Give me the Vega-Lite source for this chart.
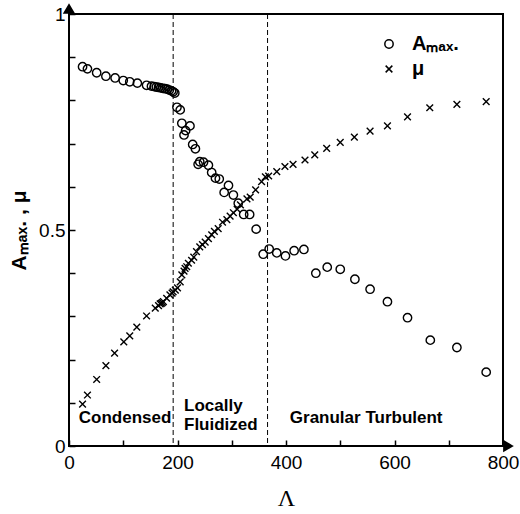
{
  "$schema": "https://vega.github.io/schema/vega-lite/v6.json",
  "autosize": {"type": "none"},
  "padding": {"left": 69, "top": 14, "right": 17, "bottom": 68},
  "width": 434,
  "height": 432,
  "background": "white",
  "config": {
    "font": "Liberation Sans",
    "view": {"stroke": "black", "strokeWidth": 2},
    "axis": {
      "domain": false,
      "tickColor": "black", "tickWidth": 1.5,
      "labelColor": "black", "labelFontSize": 19, "labelFont": "Liberation Sans",
      "grid": false, "titleColor": "black"
    }
  },
  "datasets": {
    "pts": [
      {"L": 25, "v": 0.878, "series": "A"}, {"L": 34, "v": 0.873, "series": "A"}, {"L": 51, "v": 0.864, "series": "A"},
      {"L": 68, "v": 0.856, "series": "A"}, {"L": 85, "v": 0.852, "series": "A"}, {"L": 100, "v": 0.846, "series": "A"},
      {"L": 112, "v": 0.843, "series": "A"}, {"L": 126, "v": 0.840, "series": "A"}, {"L": 143, "v": 0.835, "series": "A"},
      {"L": 152, "v": 0.833, "series": "A"}, {"L": 157, "v": 0.832, "series": "A"}, {"L": 161, "v": 0.831, "series": "A"},
      {"L": 165, "v": 0.830, "series": "A"}, {"L": 169, "v": 0.829, "series": "A"}, {"L": 173, "v": 0.828, "series": "A"},
      {"L": 177, "v": 0.827, "series": "A"}, {"L": 181, "v": 0.826, "series": "A"}, {"L": 185, "v": 0.824, "series": "A"},
      {"L": 189, "v": 0.822, "series": "A"}, {"L": 192, "v": 0.820, "series": "A"}, {"L": 195, "v": 0.817, "series": "A"},
      {"L": 199, "v": 0.784, "series": "A"}, {"L": 205, "v": 0.778, "series": "A"}, {"L": 208, "v": 0.747, "series": "A"},
      {"L": 223, "v": 0.741, "series": "A"}, {"L": 212, "v": 0.720, "series": "A"}, {"L": 215, "v": 0.730, "series": "A"},
      {"L": 228, "v": 0.698, "series": "A"}, {"L": 233, "v": 0.688, "series": "A"}, {"L": 238, "v": 0.652, "series": "A"},
      {"L": 241, "v": 0.658, "series": "A"}, {"L": 248, "v": 0.657, "series": "A"}, {"L": 257, "v": 0.650, "series": "A"},
      {"L": 263, "v": 0.633, "series": "A"}, {"L": 270, "v": 0.620, "series": "A"}, {"L": 277, "v": 0.618, "series": "A"},
      {"L": 286, "v": 0.587, "series": "A"}, {"L": 294, "v": 0.603, "series": "A"}, {"L": 303, "v": 0.581, "series": "A"},
      {"L": 312, "v": 0.562, "series": "A"}, {"L": 322, "v": 0.536, "series": "A"}, {"L": 333, "v": 0.536, "series": "A"},
      {"L": 345, "v": 0.502, "series": "A"}, {"L": 358, "v": 0.444, "series": "A"}, {"L": 369, "v": 0.456, "series": "A"},
      {"L": 383, "v": 0.447, "series": "A"}, {"L": 399, "v": 0.440, "series": "A"}, {"L": 415, "v": 0.452, "series": "A"},
      {"L": 433, "v": 0.455, "series": "A"}, {"L": 455, "v": 0.400, "series": "A"}, {"L": 476, "v": 0.414, "series": "A"},
      {"L": 500, "v": 0.409, "series": "A"}, {"L": 527, "v": 0.386, "series": "A"}, {"L": 555, "v": 0.363, "series": "A"},
      {"L": 587, "v": 0.334, "series": "A"}, {"L": 624, "v": 0.297, "series": "A"}, {"L": 666, "v": 0.245, "series": "A"},
      {"L": 715, "v": 0.228, "series": "A"}, {"L": 769, "v": 0.171, "series": "A"},
      {"L": 25, "v": 0.097, "series": "mu"}, {"L": 34, "v": 0.118, "series": "mu"}, {"L": 51, "v": 0.154, "series": "mu"},
      {"L": 68, "v": 0.186, "series": "mu"}, {"L": 84, "v": 0.215, "series": "mu"}, {"L": 101, "v": 0.241, "series": "mu"},
      {"L": 112, "v": 0.255, "series": "mu"}, {"L": 125, "v": 0.275, "series": "mu"}, {"L": 143, "v": 0.301, "series": "mu"},
      {"L": 159, "v": 0.319, "series": "mu"}, {"L": 165, "v": 0.325, "series": "mu"}, {"L": 168, "v": 0.329, "series": "mu"},
      {"L": 170, "v": 0.330, "series": "mu"}, {"L": 172, "v": 0.332, "series": "mu"}, {"L": 174, "v": 0.334, "series": "mu"},
      {"L": 180, "v": 0.342, "series": "mu"}, {"L": 186, "v": 0.350, "series": "mu"}, {"L": 190, "v": 0.354, "series": "mu"},
      {"L": 192, "v": 0.357, "series": "mu"}, {"L": 196, "v": 0.361, "series": "mu"}, {"L": 200, "v": 0.366, "series": "mu"},
      {"L": 205, "v": 0.380, "series": "mu"}, {"L": 208, "v": 0.396, "series": "mu"}, {"L": 212, "v": 0.405, "series": "mu"},
      {"L": 214, "v": 0.411, "series": "mu"}, {"L": 217, "v": 0.415, "series": "mu"}, {"L": 220, "v": 0.423, "series": "mu"},
      {"L": 226, "v": 0.430, "series": "mu"}, {"L": 230, "v": 0.437, "series": "mu"}, {"L": 235, "v": 0.450, "series": "mu"},
      {"L": 241, "v": 0.461, "series": "mu"}, {"L": 246, "v": 0.466, "series": "mu"}, {"L": 251, "v": 0.472, "series": "mu"},
      {"L": 257, "v": 0.480, "series": "mu"}, {"L": 263, "v": 0.489, "series": "mu"}, {"L": 268, "v": 0.497, "series": "mu"},
      {"L": 275, "v": 0.503, "series": "mu"}, {"L": 283, "v": 0.518, "series": "mu"}, {"L": 291, "v": 0.524, "series": "mu"},
      {"L": 297, "v": 0.532, "series": "mu"}, {"L": 303, "v": 0.540, "series": "mu"}, {"L": 310, "v": 0.548, "series": "mu"},
      {"L": 316, "v": 0.558, "series": "mu"}, {"L": 328, "v": 0.572, "series": "mu"}, {"L": 334, "v": 0.576, "series": "mu"},
      {"L": 344, "v": 0.593, "series": "mu"}, {"L": 355, "v": 0.612, "series": "mu"}, {"L": 362, "v": 0.623, "series": "mu"},
      {"L": 368, "v": 0.625, "series": "mu"}, {"L": 383, "v": 0.635, "series": "mu"}, {"L": 398, "v": 0.647, "series": "mu"},
      {"L": 413, "v": 0.652, "series": "mu"}, {"L": 435, "v": 0.662, "series": "mu"}, {"L": 453, "v": 0.674, "series": "mu"},
      {"L": 475, "v": 0.689, "series": "mu"}, {"L": 500, "v": 0.703, "series": "mu"}, {"L": 526, "v": 0.715, "series": "mu"},
      {"L": 555, "v": 0.729, "series": "mu"}, {"L": 587, "v": 0.741, "series": "mu"}, {"L": 624, "v": 0.762, "series": "mu"},
      {"L": 665, "v": 0.783, "series": "mu"}, {"L": 715, "v": 0.791, "series": "mu"}, {"L": 769, "v": 0.797, "series": "mu"}
    ],
    "regimes": [{"L": 192}, {"L": 366}],
    "labels": [
      {"L": 18, "v": 0.053, "t": "Condensed"},
      {"L": 212, "v": 0.081, "t": "Locally"},
      {"L": 212, "v": 0.037, "t": "Fluidized"},
      {"L": 407, "v": 0.053, "t": "Granular Turbulent"}
    ],
    "ends": [{"L": 0, "v": 1, "dir": "up"}, {"L": 800, "v": 0, "dir": "right"}]
  },
  "encoding": {
    "x": {
      "field": "L", "type": "quantitative",
      "scale": {"domain": [0, 800], "nice": false},
      "axis": {
        "values": [0, 100, 200, 300, 400, 500, 600, 700, 800],
        "labelExpr": "datum.value % 200 == 0 ? datum.label : ''",
        "offset": -6, "tickSize": 6, "zindex": 1,
        "labelPadding": 7, "labelFlush": false,
        "title": "Λ", "titleFont": "Liberation Serif", "titleFontSize": 24, "titleFontWeight": "normal",
        "titleY": 58, "titleBaseline": "middle"
      }
    },
    "y": {
      "field": "v", "type": "quantitative",
      "scale": {"domain": [0, 1], "nice": false},
      "axis": {
        "values": [0, 0.1, 0.2, 0.3, 0.4, 0.5, 0.6, 0.7, 0.8, 0.9, 1],
        "format": ".1~f",
        "labelExpr": "datum.value == 0 || datum.value == 0.5 || datum.value == 1 ? datum.label : ''",
        "offset": -6, "tickSize": 6, "zindex": 1,
        "labelPadding": 4, "labelFlush": false,
        "title": "Aₘₐₓ. , μ", "titleFontSize": 21, "titleFontWeight": "bold",
        "titleAngle": 270, "titleX": -56, "titleY": 216, "titleBaseline": "middle", "titleAlign": "center"
      }
    }
  },
  "layer": [
    {
      "data": {"name": "regimes"},
      "mark": {"type": "rule", "color": "black", "strokeWidth": 1, "strokeDash": [5, 3]},
      "encoding": {"y": null}
    },
    {
      "data": {"name": "pts"},
      "mark": {"type": "point", "filled": false, "color": "black", "opacity": 1, "strokeWidth": 1.4, "size": 70},
      "encoding": {
        "shape": {
          "field": "series", "type": "nominal",
          "scale": {"domain": ["A", "mu"], "range": ["circle", "M-0.8,-0.8L0.8,0.8M0.8,-0.8L-0.8,0.8"]},
          "legend": {
            "orient": "none", "legendX": 310, "legendY": 20, "title": null,
            "labelExpr": "datum.value == 'A' ? 'Aₘₐₓ.' : 'μ'",
            "labelFontSize": 20, "labelFontWeight": "bold", "labelColor": "black",
            "labelOffset": 13, "rowPadding": 5, "padding": 0, "symbolSize": 70,
            "symbolStrokeColor": "black", "symbolStrokeWidth": 1.5
          }
        }
      }
    },
    {
      "data": {"name": "labels"},
      "mark": {"type": "text", "align": "left", "baseline": "alphabetic", "fontSize": 17, "fontWeight": "bold", "color": "black"},
      "encoding": {"text": {"field": "t"}}
    },
    {
      "data": {"name": "ends"},
      "transform": [{"filter": "datum.dir == 'up'"}],
      "mark": {"type": "point", "shape": "triangle-up", "filled": true, "fill": "black", "stroke": "black", "opacity": 1, "size": 80, "yOffset": -5, "clip": false}
    },
    {
      "data": {"name": "ends"},
      "transform": [{"filter": "datum.dir == 'right'"}],
      "mark": {"type": "point", "shape": "triangle-right", "filled": true, "fill": "black", "stroke": "black", "opacity": 1, "size": 80, "xOffset": 5, "clip": false}
    }
  ]
}
